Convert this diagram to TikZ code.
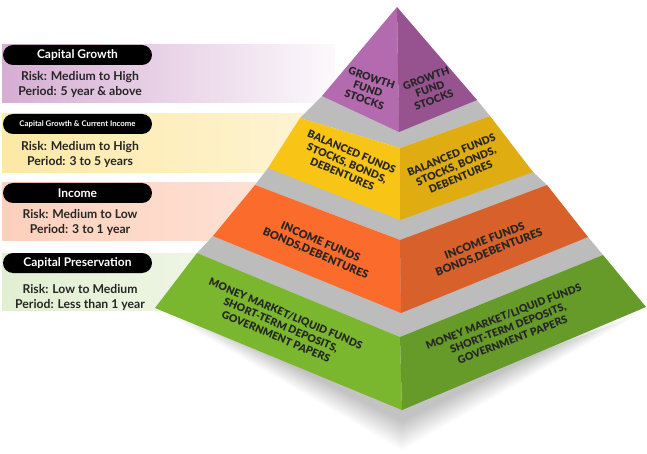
\documentclass[tikz,border=0pt]{standalone}
\usepackage{fontspec}
\setmainfont{Lato}
\newfontfamily\heavyface{Lato Black}
\usetikzlibrary{calc}

\definecolor{plum}{HTML}{B46AAF}
\definecolor{plumdark}{HTML}{97538F}
\definecolor{gold}{HTML}{F8C416}
\definecolor{golddark}{HTML}{DFAC12}
\definecolor{tangerine}{HTML}{FA6B2C}
\definecolor{tangerinedark}{HTML}{D8612B}
\definecolor{leaf}{HTML}{7AB62E}
\definecolor{leafdark}{HTML}{669A29}
\definecolor{ledge}{HTML}{BCBCBC}

\begin{document}
\begin{tikzpicture}[x=1pt, y=-1pt,
    pill/.style={rectangle, rounded corners=10pt, fill=black, text=white, minimum width=149pt, minimum height=20pt, inner sep=0pt, font=\bfseries\fontsize{12}{13}\selectfont},
    risk/.style={align=center, text=black!85, inner sep=0pt, font=\bfseries\fontsize{12.2}{15}\selectfont},
    face/.style={align=center, text=black!85, inner sep=0pt, font=\heavyface\fontsize{10.5}{11.5}\selectfont},
    ledgetop/.style={fill=ledge},
    leftface/.style={fill=#1},
    rightface/.style={fill=#1}
]
\fill[white] (0,0) rectangle (647,454);
\useasboundingbox (0,0) rectangle (647,454);

% label bands behind the pyramid
\shade[left color=plum!55, right color=plum!4] (2,45) rectangle (335,103);
\shade[left color=gold!38, right color=gold!18] (2,114) rectangle (330,173);
\shade[left color=tangerine!32, right color=tangerine!20] (2,183) rectangle (270,240);
\shade[left color=leaf!22, right color=leaf!12] (2,253) rectangle (215,310);

\node[pill] (growth) at (77.5,55) {Capital Growth};
\node[risk] (growthrisk) at (80,84) {Risk: Medium to High\\Period: 5 year \& above};
\node[pill, font=\bfseries\fontsize{7.8}{9}\selectfont] (balanced) at (77.5,124) {Capital Growth \& Current Income};
\node[risk] (balancedrisk) at (80,154) {Risk: Medium to High\\Period: 3 to 5 years};
\node[pill] (income) at (77.5,193) {Income};
\node[risk] (incomerisk) at (80,222) {Risk: Medium to Low\\Period: 3 to 1 year};
\node[pill] (preserve) at (77.5,263) {Capital Preservation};
\node[risk] (preserverisk) at (80,297) {Risk: Low to Medium\\Period: Less than 1 year};

% tier corners
\coordinate (apex) at (397,7);
\coordinate (pL) at (322,96);  \coordinate (pF) at (399,132); \coordinate (pR) at (477,100);
\coordinate (yTL) at (300,118); \coordinate (yTF) at (400,148); \coordinate (yTR) at (490,116);
\coordinate (yBL) at (268,168); \coordinate (yBF) at (400,220); \coordinate (yBR) at (533,172);
\coordinate (oTL) at (255,185); \coordinate (oTF) at (400,240); \coordinate (oTR) at (547,185);
\coordinate (oBL) at (213,236); \coordinate (oBF) at (401,313); \coordinate (oBR) at (588,237);
\coordinate (gTL) at (197,253); \coordinate (gTF) at (400,337); \coordinate (gTR) at (603,255);
\coordinate (gBL) at (155,308); \coordinate (gBF) at (402,410); \coordinate (gBR) at (646,307);

% soft shadow under the base
\foreach \d in {0,2,...,28}
  \fill[black, opacity=0.016] ({170+\d*1.4},{316+\d*0.3}) -- (402,{450-\d*1.0}) -- ({636-\d*1.4},{316+\d*0.3}) -- (402,405) -- cycle;

% green tier
\fill[ledgetop] (gTL) -- (gTF) -- (gTR) -- (oBR) -- (oBL) -- cycle;
\fill[leftface=leaf] (gTL) -- (gTF) -- (gBF) -- (gBL) -- cycle;
\fill[rightface=leafdark] (gTF) -- (gTR) -- (gBR) -- (gBF) -- cycle;

% orange tier
\fill[ledgetop] (oTL) -- (oTF) -- (oTR) -- (yBR) -- (yBL) -- cycle;
\fill[leftface=tangerine] (oTL) -- (oTF) -- (oBF) -- (oBL) -- cycle;
\fill[rightface=tangerinedark] (oTF) -- (oTR) -- (oBR) -- (oBF) -- cycle;

% yellow tier
\fill[ledgetop] (yTL) -- (yTF) -- (yTR) -- (pR) -- (pL) -- cycle;
\fill[leftface=gold] (yTL) -- (yTF) -- (yBF) -- (yBL) -- cycle;
\fill[rightface=golddark] (yTF) -- (yTR) -- (yBR) -- (yBF) -- cycle;

% purple cap
\fill[leftface=plum] (apex) -- (pL) -- (pF) -- cycle;
\fill[rightface=plumdark] (apex) -- (pF) -- (pR) -- cycle;

% face texts
\node[face, rotate=-19] (capL) at (368,89) {GROWTH\\FUND\\STOCKS};
\node[face, rotate=20] (capR) at (430,89) {GROWTH\\FUND\\STOCKS};
\node[face, font=\heavyface\fontsize{10.5}{12}\selectfont, rotate=-23] (goldL) at (347,163) {BALANCED FUNDS\\STOCKS, BONDS,\\DEBENTURES};
\node[face, font=\heavyface\fontsize{10.5}{12}\selectfont, rotate=23] (goldR) at (456,166) {BALANCED FUNDS\\STOCKS, BONDS,\\DEBENTURES};
\node[face, font=\heavyface\fontsize{11}{12.5}\selectfont, rotate=-23] (orangeL) at (318,248) {INCOME FUNDS\\BONDS,DEBENTURES};
\node[face, font=\heavyface\fontsize{11}{12.5}\selectfont, rotate=21] (orangeR) at (487,247) {INCOME FUNDS\\BONDS,DEBENTURES};
\node[face, font=\heavyface\fontsize{10.5}{12.5}\selectfont, rotate=-23] (greenL) at (281,325) {MONEY MARKET/LIQUID FUNDS\\SHORT-TERM DEPOSITS,\\GOVERNMENT PAPERS};
\node[face, font=\heavyface\fontsize{10.5}{12.5}\selectfont, rotate=21] (greenR) at (508,328) {MONEY MARKET/LIQUID FUNDS\\SHORT-TERM DEPOSITS,\\GOVERNMENT PAPERS};
\end{tikzpicture}
\end{document}
